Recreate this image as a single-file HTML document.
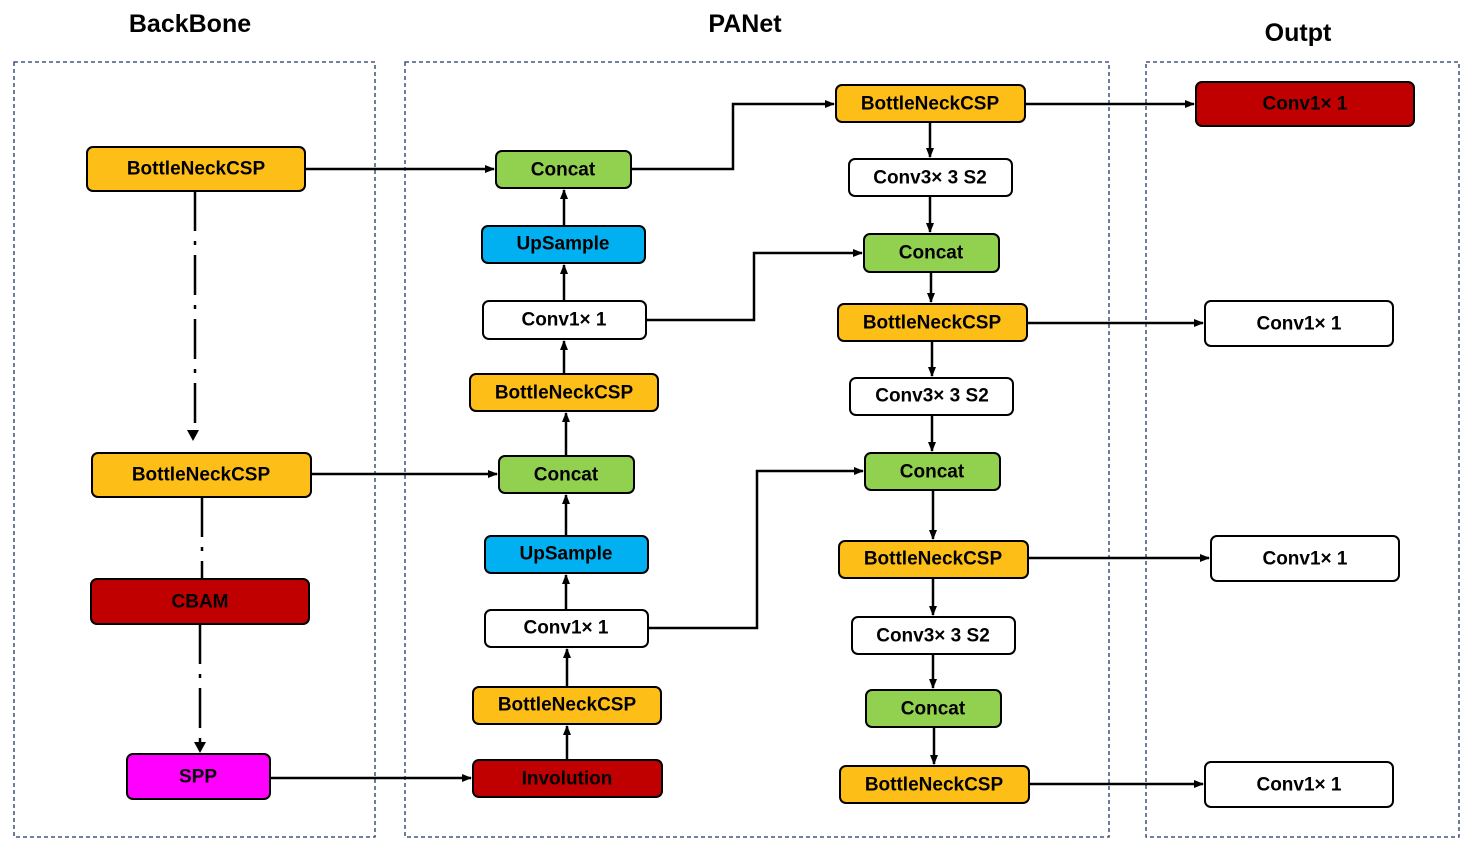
<!DOCTYPE html>
<html><head><meta charset="utf-8"><style>
body{margin:0;background:#fff}
svg text{font-family:"Liberation Sans",sans-serif;font-weight:bold;font-size:19px;text-anchor:middle;dominant-baseline:central}
</style></head><body>
<svg width="1465" height="854" viewBox="0 0 1465 854" xmlns="http://www.w3.org/2000/svg">
<defs><marker id="a" markerWidth="10" markerHeight="10" refX="9" refY="5" orient="auto" markerUnits="userSpaceOnUse"><path d="M0,1 L10,5 L0,9 z" fill="#000"/></marker></defs>
<g fill="none" stroke="#1f3864" stroke-width="1.3" stroke-dasharray="4,3">
<rect x="14" y="62" width="361" height="775"/>
<rect x="405" y="62" width="704" height="775"/>
<rect x="1146" y="62" width="313" height="775"/>
</g>
<g style="font-size:25px">
<text x="190" y="24" style="font-size:25px">BackBone</text>
<text x="745" y="24" style="font-size:25px">PANet</text>
<text x="1298" y="33" style="font-size:25px">Outpt</text>
</g>
<g stroke="#000" stroke-width="2.5" fill="none" marker-end="url(#a)">
<path d="M305,169 H494"/>
<path d="M311,474 H497"/>
<path d="M270,778 H471"/>
<path d="M631,169 H733 V104 H834"/>
<path d="M646,320 H754 V253 H862"/>
<path d="M648,628 H757 V471 H863"/>
<path d="M564,226 V190"/><path d="M564,301 V265"/><path d="M564,374 V341"/><path d="M566,456 V413"/>
<path d="M566,536 V495"/><path d="M566,610 V575"/><path d="M567,687 V649"/><path d="M567,760 V726"/>
<path d="M930,122 V157"/><path d="M930,196 V232"/><path d="M931,272 V302"/><path d="M932,341 V376"/>
<path d="M932,415 V451"/><path d="M933,490 V539"/><path d="M933,578 V615"/><path d="M933,654 V688"/><path d="M934,727 V764"/>
<path d="M1025,104 H1194"/><path d="M1027,323 H1203"/><path d="M1028,558 H1209"/><path d="M1029,784 H1203"/>
</g>
<g stroke="#000" stroke-width="2.5" fill="none" stroke-dasharray="40,10,4,10">
<path d="M195,191 V430"/><path d="M202,497 V579"/><path d="M200,624 V742"/>
</g>
<path d="M187,430 L199,430 L193,441 z" fill="#000"/>
<path d="M194,742 L206,742 L200,753 z" fill="#000"/>
<g stroke="#000" stroke-width="2">
<rect x="87" y="147" width="218" height="44" rx="6" fill="#FDBF17"/>
<rect x="92" y="453" width="219" height="44" rx="6" fill="#FDBF17"/>
<rect x="91" y="579" width="218" height="45" rx="6" fill="#C00000"/>
<rect x="127" y="754" width="143" height="45" rx="6" fill="#FF00FF"/>
<rect x="496" y="151" width="135" height="37" rx="6" fill="#92D050"/>
<rect x="482" y="226" width="163" height="37" rx="6" fill="#00B0F0"/>
<rect x="483" y="301" width="163" height="38" rx="6" fill="#fff"/>
<rect x="470" y="374" width="188" height="37" rx="6" fill="#FDBF17"/>
<rect x="499" y="456" width="135" height="37" rx="6" fill="#92D050"/>
<rect x="485" y="536" width="163" height="37" rx="6" fill="#00B0F0"/>
<rect x="485" y="610" width="163" height="37" rx="6" fill="#fff"/>
<rect x="473" y="687" width="188" height="37" rx="6" fill="#FDBF17"/>
<rect x="473" y="760" width="189" height="37" rx="6" fill="#C00000"/>
<rect x="836" y="85" width="189" height="37" rx="6" fill="#FDBF17"/>
<rect x="849" y="159" width="163" height="37" rx="6" fill="#fff"/>
<rect x="864" y="234" width="135" height="38" rx="6" fill="#92D050"/>
<rect x="838" y="304" width="189" height="37" rx="6" fill="#FDBF17"/>
<rect x="850" y="378" width="163" height="37" rx="6" fill="#fff"/>
<rect x="865" y="453" width="135" height="37" rx="6" fill="#92D050"/>
<rect x="839" y="541" width="189" height="37" rx="6" fill="#FDBF17"/>
<rect x="852" y="617" width="163" height="37" rx="6" fill="#fff"/>
<rect x="866" y="690" width="135" height="37" rx="6" fill="#92D050"/>
<rect x="840" y="766" width="189" height="37" rx="6" fill="#FDBF17"/>
<rect x="1196" y="82" width="218" height="44" rx="6" fill="#C00000"/>
<rect x="1205" y="301" width="188" height="45" rx="6" fill="#fff"/>
<rect x="1211" y="536" width="188" height="45" rx="6" fill="#fff"/>
<rect x="1205" y="762" width="188" height="45" rx="6" fill="#fff"/>
</g>
<g>
<text x="196" y="169">BottleNeckCSP</text>
<text x="201" y="475">BottleNeckCSP</text>
<text x="200" y="602">CBAM</text>
<text x="198" y="777">SPP</text>
<text x="563" y="170">Concat</text>
<text x="563" y="244">UpSample</text>
<text x="564" y="320">Conv1× 1</text>
<text x="564" y="393">BottleNeckCSP</text>
<text x="566" y="475">Concat</text>
<text x="566" y="554">UpSample</text>
<text x="566" y="628">Conv1× 1</text>
<text x="567" y="705">BottleNeckCSP</text>
<text x="567" y="779">Involution</text>
<text x="930" y="104">BottleNeckCSP</text>
<text x="930" y="178">Conv3× 3 S2</text>
<text x="931" y="253">Concat</text>
<text x="932" y="323">BottleNeckCSP</text>
<text x="932" y="396">Conv3× 3 S2</text>
<text x="932" y="472">Concat</text>
<text x="933" y="559">BottleNeckCSP</text>
<text x="933" y="636">Conv3× 3 S2</text>
<text x="933" y="709">Concat</text>
<text x="934" y="785">BottleNeckCSP</text>
<text x="1305" y="104">Conv1× 1</text>
<text x="1299" y="324">Conv1× 1</text>
<text x="1305" y="559">Conv1× 1</text>
<text x="1299" y="785">Conv1× 1</text>
</g>
</svg>
</body></html>
